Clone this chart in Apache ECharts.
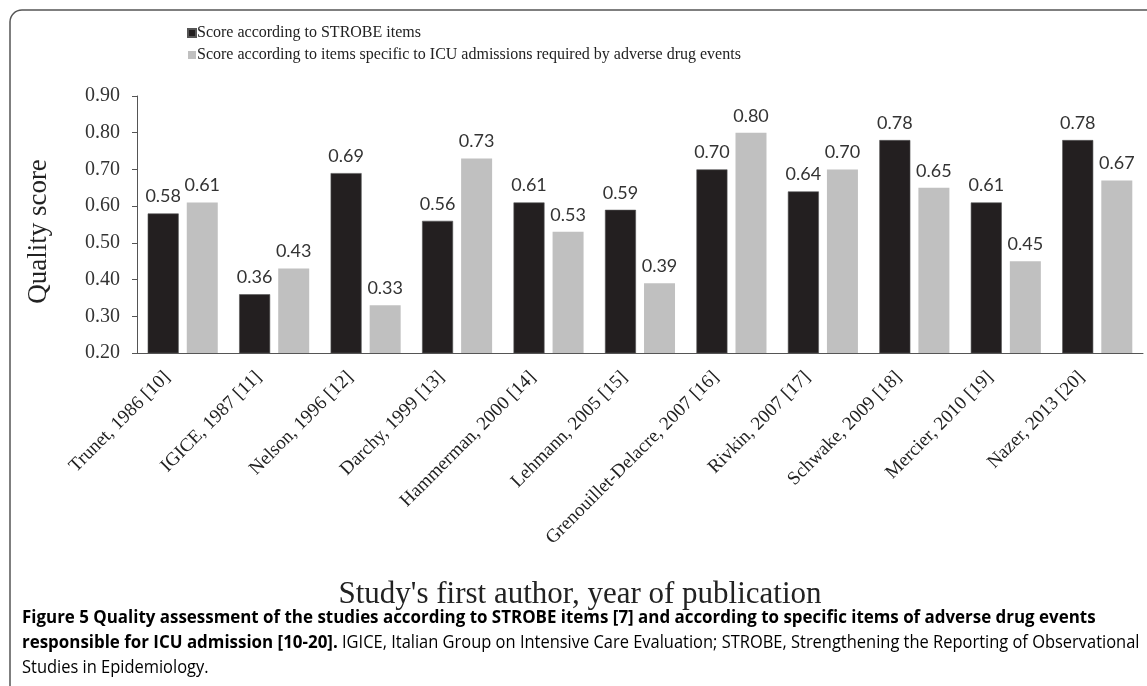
<!DOCTYPE html>
<html>
<head>
<meta charset="utf-8">
<script src="https://cdn.jsdelivr.net/npm/echarts@6/dist/echarts.min.js"></script>
<style>
  html, body { margin: 0; padding: 0; background: #fff; }
  #chart { width: 1147px; height: 686px; }
</style>
</head>
<body>
<div id="chart"></div>
<script>
// studies on the x axis
var studies = [
    'Trunet, 1986 [10]', 'IGICE, 1987 [11]', 'Nelson, 1996 [12]', 'Darchy, 1999 [13]',
    'Hammerman, 2000 [14]', 'Lehmann, 2005 [15]', 'Grenouillet-Delacre, 2007 [16]',
    'Rivkin, 2007 [17]', 'Schwake, 2009 [18]', 'Mercier, 2010 [19]', 'Nazer, 2013 [20]'
];
var strobeScore = [0.58, 0.36, 0.69, 0.56, 0.61, 0.59, 0.70, 0.64, 0.78, 0.61, 0.78];
var icuScore = [0.61, 0.43, 0.33, 0.73, 0.53, 0.39, 0.80, 0.70, 0.65, 0.45, 0.67];
var seriesNames = [
    'Score according to STROBE items',
    'Score according to items specific to ICU admissions required by adverse drug events'
];

var serif = '"Liberation Serif", "DejaVu Serif", serif';
var labelFont = 'Lato, "Open Sans", sans-serif';

var myChart = echarts.init(document.getElementById('chart'));

function barLabel(){
    return {
        show: true,
        position: 'top',
        distance: 8,
        fontFamily: labelFont,
        fontSize: 18,
        color: '#333',
        formatter: function (p) { return p.value.toFixed(2); }
    };
}

var option = {
    animation: false,
    backgroundColor: '#fff',
    legend: {
        orient: 'vertical',
        left: 182,
        top: 20,
        itemWidth: 8,
        itemHeight: 8,
        itemGap: 6,
        icon: 'rect',
        textStyle: { fontFamily: serif, fontSize: 16, color: '#222', padding: [0, 0, 0, -4] },
        data: seriesNames
    },
    grid: { left: 137, right: 4, top: 96, bottom: 333 },
    xAxis: {
        type: 'category',
        data: studies,
        axisLine: { lineStyle: { color: '#555', width: 1 } },
        axisTick: { length: 5, lineStyle: { color: '#555' } },
        axisLabel: {
            rotate: 45,
            interval: 0,
            margin: 6,
            padding: [0, 22, 0, 0],
            fontFamily: serif,
            fontSize: 19,
            color: '#222'
        },
        name: "Study's first author, year of publication",
        nameLocation: 'middle',
        nameGap: 226,
        nameTextStyle: { fontFamily: serif, fontSize: 31, color: '#222', padding: [0, 120, 0, 0] }
    },
    yAxis: {
        type: 'value',
        min: 0.2,
        max: 0.9,
        interval: 0.1,
        splitLine: { show: false },
        axisLine: { show: true, lineStyle: { color: '#555', width: 1 } },
        axisTick: { show: true, length: 5, lineStyle: { color: '#555' } },
        axisLabel: {
            margin: 17,
            fontFamily: serif,
            fontSize: 20,
            color: '#333',
            formatter: function (v) { return v.toFixed(2); }
        },
        name: 'Quality score',
        nameLocation: 'middle',
        nameGap: 85,
        nameTextStyle: { fontFamily: serif, fontSize: 27, color: '#222', padding: [0, 14, 0, 0] }
    },
    series: [
        {
            name: seriesNames[0],
            type: 'bar',
            data: strobeScore,
            barWidth: 31,
            barGap: '26%',
            itemStyle: { color: '#231f20', borderColor: '#555', borderWidth: 0.6 },
            label: barLabel()
        },
        {
            name: seriesNames[1],
            type: 'bar',
            data: icuScore,
            barWidth: 31,
            itemStyle: { color: '#c0c0c0' },
            label: barLabel()
        }
    ],
    graphic: [
        {
            type: 'rect',
            shape: { x: 10, y: 10, width: 1300, height: 900, r: 12 },
            style: { fill: 'none', stroke: '#555', lineWidth: 1.5 },
            silent: true
        },
        {
            type: 'text',
            left: 22,
            top: 609,
            scaleX: 0.94,
            style: {
                text: '{b|Figure 5 Quality assessment of the studies according to STROBE items [7] and according to specific items of adverse drug events}\n' +
                      '{b|responsible for ICU admission [10-20].}{r| IGICE, Italian Group on Intensive Care Evaluation; STROBE, Strengthening the Reporting of Observational}\n' +
                      '{r|Studies in Epidemiology.}',
                rich: {
                    b: { fontFamily: '"Open Sans", sans-serif', fontWeight: 'bold', fontSize: 18, color: '#222', lineHeight: 25 },
                    r: { fontFamily: '"Open Sans", sans-serif', fontSize: 17.5, color: '#666', lineHeight: 25 }
                }
            }
        }
    ]
};

myChart.setOption(option);
</script>
</body>
</html>
